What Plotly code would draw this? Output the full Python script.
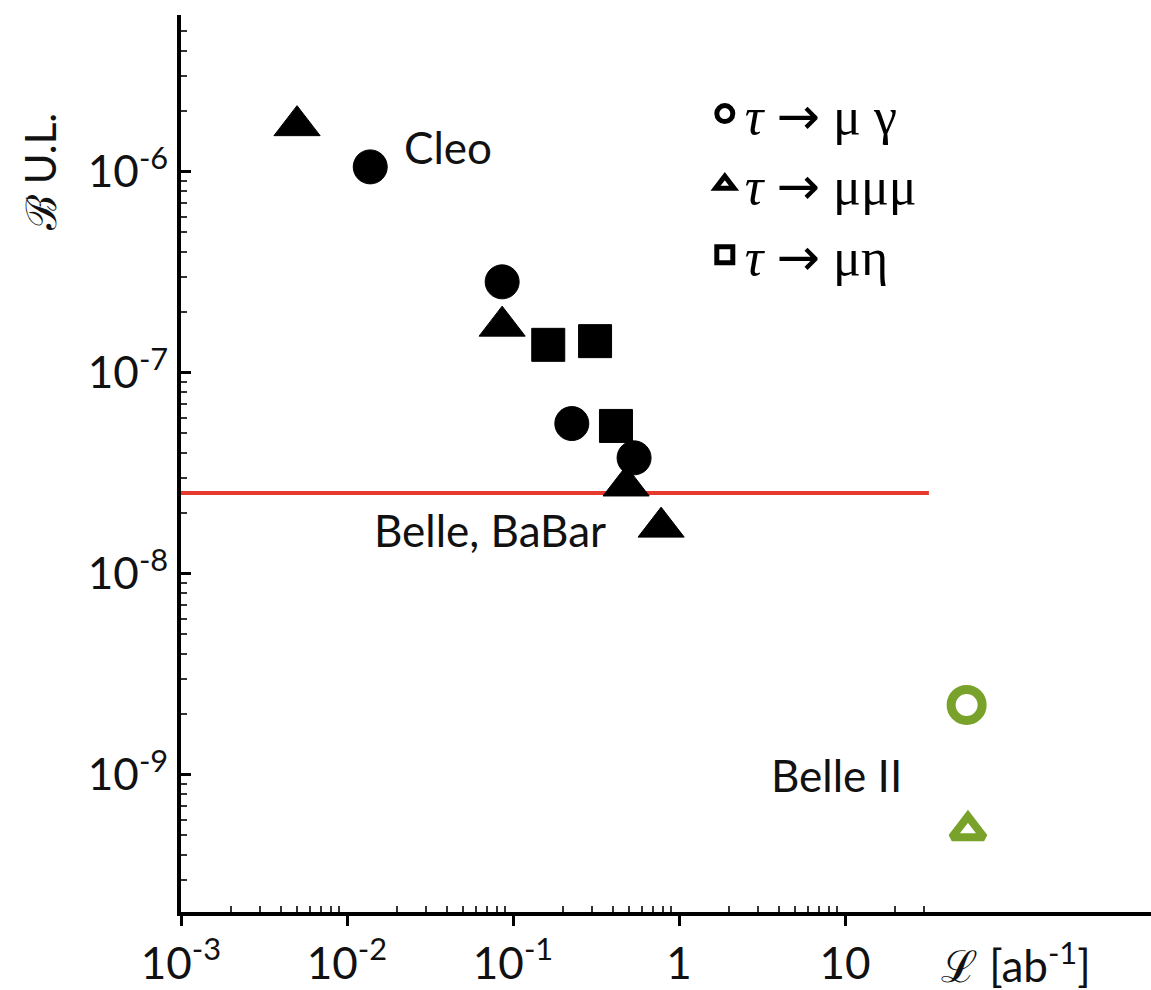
import math
import plotly.graph_objects as go

# ---- data ----
# tau -> mu gamma (Cleo, Belle, BaBar)
mugamma_lumi = [0.0138, 0.086, 0.226, 0.536]
mugamma_ul = [1.06e-6, 2.84e-7, 5.6e-8, 3.78e-8]
# tau -> mu mu mu
mu3_lumi = [0.0050, 0.086, 0.48, 0.78]
mu3_ul = [1.7e-6, 1.71e-7, 2.74e-8, 1.71e-8]
# tau -> mu eta
mueta_lumi = [0.163, 0.312, 0.417]
mueta_ul = [1.38e-7, 1.44e-7, 5.45e-8]
# Belle II projections
belle2_mugamma_lumi = [54]
belle2_mugamma_ul = [2.23e-9]
belle2_mu3_lumi = [55]
belle2_mu3_ul = [5.3e-10]
# reference line
line_lumi = [1e-3, 32]
line_ul = [2.53e-8, 2.53e-8]

x_tickvals = [1e-3, 1e-2, 1e-1, 1, 10]
x_ticktext = ["10<sup>-3</sup>", "10<sup>-2</sup>", "10<sup>-1</sup>", "1", "10"]
x_minorvals = [k * 10.0 ** p for p in range(-3, 1) for k in range(2, 10)] + [20, 30]
y_tickvals = [1e-6, 1e-7, 1e-8, 1e-9]
y_ticktext = ["10<sup>-6</sup>", "10<sup>-7</sup>", "10<sup>-8</sup>", "10<sup>-9</sup>"]

labels_text = ["Cleo", "Belle, BaBar", "Belle II"]
labels_x = [0.0214, 0.01416, 3.48]
labels_y = [1.33e-6, 1.66e-8, 1.0e-9]

ARROW = '<span style="font-family:DejaVu Sans">→</span>'
legend_names = ["<i>τ</i> " + ARROW + " μ γ",
                "<i>τ</i> " + ARROW + " μμμ",
                "<i>τ</i> " + ARROW + " μη"]

BLACK = "#000000"
GREEN = "#78a22a"
RED = "#e8392e"
SANS = "Lato, Open Sans, sans-serif"
SERIF = "Liberation Serif, DejaVu Serif, serif"

fig = go.Figure()

fig.add_trace(go.Scatter(x=line_lumi, y=line_ul, mode="lines",
                         line=dict(color=RED, width=4), showlegend=False,
                         hoverinfo="skip"))

fig.add_trace(go.Scatter(x=mu3_lumi, y=mu3_ul, mode="markers", showlegend=False,
                         marker=dict(symbol="triangle-up", size=40, color=BLACK,
                                     line=dict(color=BLACK, width=1))))
fig.add_trace(go.Scatter(x=mugamma_lumi, y=mugamma_ul, mode="markers", showlegend=False,
                         marker=dict(symbol="circle", size=34, color=BLACK,
                                     line=dict(color=BLACK, width=1))))
fig.add_trace(go.Scatter(x=mueta_lumi, y=mueta_ul, mode="markers", showlegend=False,
                         marker=dict(symbol="square", size=33, color=BLACK,
                                     line=dict(color=BLACK, width=1))))

fig.add_trace(go.Scatter(x=belle2_mugamma_lumi, y=belle2_mugamma_ul, mode="markers",
                         showlegend=False,
                         marker=dict(symbol="circle-open", size=31, color=GREEN,
                                     line=dict(color=GREEN, width=9))))
fig.add_trace(go.Scatter(x=belle2_mu3_lumi, y=belle2_mu3_ul, mode="markers",
                         showlegend=False,
                         marker=dict(symbol="triangle-up-open", size=28, color=GREEN,
                                     line=dict(color=GREEN, width=8))))

# legend-only entries
for sym, name in zip(["circle-open", "triangle-up-open", "square-open"], legend_names):
    fig.add_trace(go.Scatter(x=[None], y=[None], mode="markers", name=name,
                             marker=dict(symbol=sym, size=16, color=BLACK,
                                         line=dict(color=BLACK, width=5))))

for t, x, y in zip(labels_text, labels_x, labels_y):
    fig.add_annotation(x=math.log10(x), y=math.log10(y), xref="x", yref="y",
                       text=t, showarrow=False,
                       xanchor="left", yanchor="middle",
                       font=dict(family=SANS, size=44, color="#111111"))

# axis titles
fig.add_annotation(x=1.0, y=0.0, xref="paper", yref="paper", yshift=-50, xshift=-58,
                   text="ℒ [ab<sup>-1</sup>]", showarrow=False,
                   xanchor="right", yanchor="middle",
                   font=dict(family=SANS, size=44, color="#111111"))
fig.add_annotation(x=0.0, y=0.825, xref="paper", yref="paper", xshift=-141,
                   text="ℬ U.L.", textangle=-90, showarrow=False,
                   xanchor="center", yanchor="middle",
                   font=dict(family=SANS, size=42, color="#111111"))

fig.update_xaxes(type="log", range=[-3, 2.843], tickmode="array",
                 tickvals=x_tickvals, ticktext=x_ticktext,
                 showline=True, linecolor=BLACK, linewidth=4, mirror=False,
                 ticks="outside", ticklen=10, tickwidth=3, tickcolor=BLACK,
                 showgrid=False, zeroline=False,
                 tickfont=dict(family=SANS, size=44, color="#111111"),
                 minor=dict(ticks="inside", ticklen=6, tickwidth=2, tickcolor="#333333",
                            tickmode="array", tickvals=x_minorvals, showgrid=False))
fig.update_yaxes(type="log", range=[-9.682, -5.219], tickmode="array",
                 tickvals=y_tickvals, ticktext=y_ticktext,
                 showline=True, linecolor=BLACK, linewidth=4, mirror=False,
                 ticks="inside", ticklen=10, tickwidth=3, tickcolor=BLACK,
                 showgrid=False, zeroline=False,
                 tickfont=dict(family=SANS, size=44, color="#111111"),
                 minor=dict(ticks="inside", ticklen=6, tickwidth=2, tickcolor="#333333",
                            dtick="D1", showgrid=False))

fig.update_layout(
    width=1151, height=990,
    margin=dict(l=181, r=0, t=15, b=78),
    paper_bgcolor="white", plot_bgcolor="white",
    legend=dict(x=0.54, y=0.935, xanchor="left", yanchor="top",
                bgcolor="rgba(0,0,0,0)", font=dict(family=SERIF, size=52, color=BLACK),
                itemsizing="trace", tracegroupgap=0),
    showlegend=True,
)

fig.write_html("out.html")
